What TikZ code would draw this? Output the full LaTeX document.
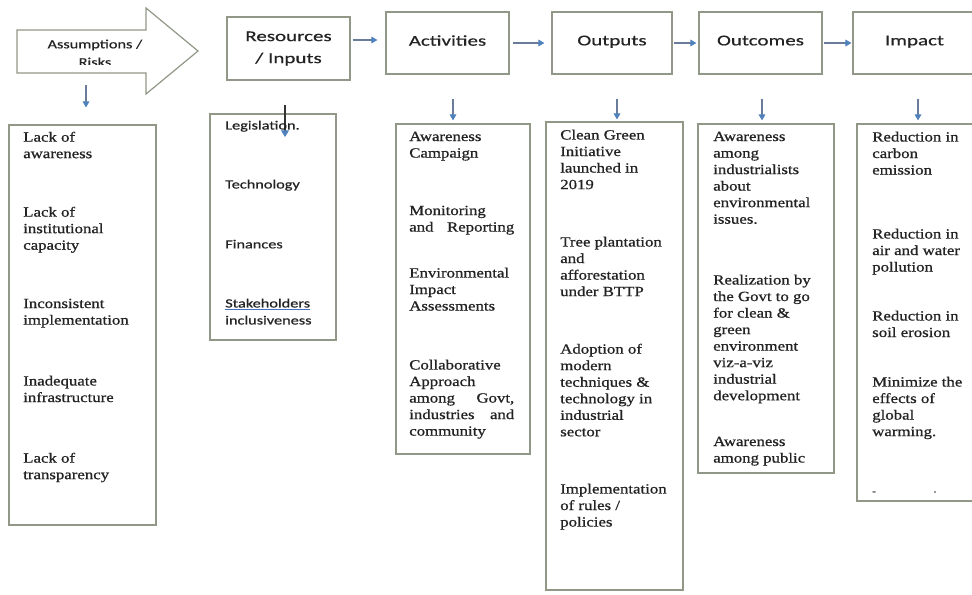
\documentclass[tikz,border=0pt]{standalone}
\usepackage{fontspec}
\usetikzlibrary{arrows.meta}
\newfontfamily\listserif[FakeStretch=1.2,FakeBold=0.8]{Liberation Serif}
\newfontfamily\headsans[FakeStretch=1.4,FakeBold=0.5]{Carlito}
\newfontfamily\smallsans[FakeStretch=1.3,FakeBold=0.5]{Carlito}
\definecolor{boxline}{RGB}{145,152,135}
\definecolor{flowblue}{RGB}{79,129,189}
\definecolor{flowline}{RGB}{105,125,155}
\definecolor{inktext}{RGB}{35,35,35}
\definecolor{ulblue}{RGB}{70,110,190}

\begin{document}
\begin{tikzpicture}[x=0.75pt,y=-0.75pt,
  panel/.style={draw=boxline, line width=0.9pt, inner sep=0pt},
  headbox/.style={panel, text=inktext, align=center,
    font=\headsans\fontsize{11.25}{16.5}\selectfont},
  item/.style={anchor=north west, inner sep=0pt, align=left, text=inktext,
    font=\listserif\fontsize{10.5}{12.4}\selectfont},
  sitem/.style={item, font=\smallsans\fontsize{9.4}{12.75}\selectfont},
  flow/.style={draw=flowline, line width=0.8pt,
    -{Triangle[length=4.5pt,width=5pt,color=flowblue]}},
]
\useasboundingbox (0,0) rectangle (972,594);
\fill[white] (0,0) rectangle (972,594);

% ---- assumptions / risks arrow ----
\draw[draw=boxline, line width=0.9pt, fill=white]
  (17,30) -- (146,30) -- (146,8) -- (198,51) -- (146,94) -- (146,73) -- (17,73) -- cycle;
\coordinate (assumbase) at (86,73);
\begin{scope}
  \clip (17,30) rectangle (146,64);
  \node[align=center, text=inktext, inner sep=0pt,
        font=\smallsans\fontsize{9.4}{13.5}\selectfont] (assumtxt) at (95,53)
        {Assumptions /\\Risks};
\end{scope}

% ---- header boxes ----
\node[headbox, minimum width=92.25pt, minimum height=47.25pt] (res) at (288.5,48.5)
  {\raisebox{1.5pt}{Resources}\\\raisebox{1.5pt}{/ Inputs}};
\node[headbox, minimum width=92.25pt, minimum height=46.5pt] (act) at (447.5,43)
  {\raisebox{3.75pt}{Activities}};
\node[headbox, minimum width=90pt, minimum height=46.5pt] (out) at (612,43)
  {\raisebox{3.75pt}{Outputs}};
\node[headbox, minimum width=92.25pt, minimum height=46.5pt] (outc) at (760.5,43)
  {\raisebox{3.75pt}{Outcomes}};
\node[headbox, minimum width=92.25pt, minimum height=46.5pt] (imp) at (914.5,43)
  {\raisebox{3.75pt}{Impact}};

% ---- horizontal flow ----
\draw[flow, shorten <=1.5pt, shorten >=6pt] (res.east |- 0,40) -- (act.west |- 0,40);
\draw[flow, shorten <=2.25pt, shorten >=5.25pt] (act.east |- 0,43) -- (out.west |- 0,43);
\draw[flow, shorten <=0.75pt, shorten >=1.5pt] (out.east |- 0,43) -- (outc.west |- 0,43);
\draw[flow, shorten <=0.75pt, shorten >=0.75pt] (outc.east |- 0,43) -- (imp.west |- 0,43);

% ---- list panels ----
\node[panel, minimum width=110.25pt, minimum height=300pt] (asl) at (82.5,325) {};
\node[panel, minimum width=94.5pt, minimum height=169.5pt] (resl) at (273,227) {};
\node[panel, minimum width=100.5pt, minimum height=247.5pt] (actl) at (463,289) {};
\node[panel, minimum width=102.75pt, minimum height=351pt] (outl) at (614.5,356) {};
\node[panel, minimum width=102pt, minimum height=261.75pt] (outcl) at (766,298.5) {};
\node[panel, minimum width=92.25pt, minimum height=282.75pt] (impl) at (918.5,312.5) {};

% ---- downward flow ----
\draw[flow, shorten <=9pt, shorten >=12.75pt] (assumbase) -- (asl.north -| assumbase);
\coordinate (legtip) at (285,137);
\draw[draw=black!80, line width=0.8pt, shorten <=18pt,
      -{Triangle[length=5pt,width=6pt,color=flowblue]}] (res.south -| legtip) -- (legtip);
\draw[flow, shorten <=18pt, shorten >=2.25pt] (act.south -| 453,0) -- (actl.north -| 453,0);
\draw[flow, shorten <=18pt, shorten >=1.5pt] (out.south -| 617,0) -- (outl.north -| 617,0);
\draw[flow, shorten <=18pt, shorten >=2.25pt] (outc.south -| 762,0) -- (outcl.north -| 762,0);
\draw[flow, shorten <=18pt, shorten >=2.25pt] (imp.south -| 918,0) -- (impl.north -| 918,0);

% ---- assumptions / risks items ----
\node[item] (as1) at (23,131.5) {Lack of\\awareness};
\node[item] (as2) at (23,206.5) {Lack of\\institutional\\capacity};
\node[item] (as3) at (23,298.5) {Inconsistent\\implementation};
\node[item] (as4) at (23,375.5) {Inadequate\\infrastructure};
\node[item] (as5) at (23,452.5) {Lack of\\transparency};

% ---- resources items ----
\node[sitem] (rs1) at (225,120.5) {Legislation.};
\node[sitem] (rs2) at (225,179.5) {Technology};
\node[sitem] (rs3) at (225,239.5) {Finances};
\node[sitem] (rs4) at (225,298.5)
  {{\color{ulblue}\underline{\color{inktext}Stakeholders}}\\inclusiveness};

% ---- activities items ----
\begin{scope}[every node/.append style={text width=78.75pt}]
\node[item] (ac1) at (409,131.5) {Awareness\\Campaign};
\node[item] (ac2) at (409,205.5) {Monitoring\\and\hfill Reporting};
\node[item] (ac3) at (409,267.5) {Environmental\\Impact\\Assessments};
\node[item] (ac4) at (409,359.5)
  {Collaborative\\Approach\\among\hfill Govt,\\industries\hfill and\\community};
\end{scope}

% ---- outputs items ----
\node[item] (op1) at (560,129.5) {Clean Green\\Initiative\\launched in\\2019};
\node[item] (op2) at (560,236.5) {Tree plantation\\and\\afforestation\\under BTTP};
\node[item] (op3) at (560,343.5)
  {Adoption of\\modern\\techniques \&\\technology in\\industrial\\sector};
\node[item] (op4) at (560,483.5) {Implementation\\of rules /\\policies};

% ---- outcomes items ----
\node[item] (oc1) at (713,131.5)
  {Awareness\\among\\industrialists\\about\\environmental\\issues.};
\node[item] (oc2) at (713,274.5)
  {Realization by\\the Govt to go\\for clean \&\\green\\environment\\viz-a-viz\\industrial\\development};
\node[item] (oc3) at (713,436.5) {Awareness\\among public};

% ---- impact items ----
\node[item] (im1) at (872,131.5) {Reduction in\\carbon\\emission};
\node[item] (im2) at (872,228.5) {Reduction in\\air and water\\pollution};
\node[item] (im3) at (872,310.5) {Reduction in\\soil erosion};
\node[item] (im4) at (872,376.5) {Minimize the\\effects of\\global\\warming.};
\node[item, anchor=center, font=\listserif\fontsize{7}{8}\selectfont] (im5a) at (874,493) {-};
\node[item, anchor=center, font=\listserif\fontsize{7}{8}\selectfont] (im5b) at (935,492) {.};
\end{tikzpicture}
\end{document}
